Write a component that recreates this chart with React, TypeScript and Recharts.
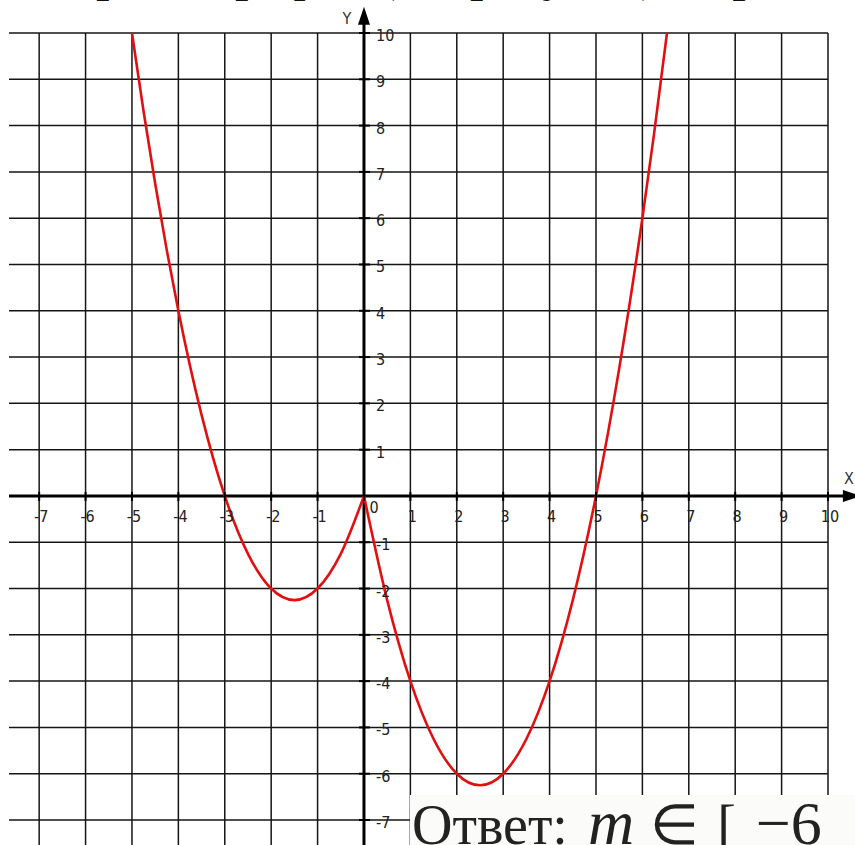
import React from "react";
import {
  LineChart,
  Line,
  XAxis,
  YAxis,
  ReferenceLine,
  ReferenceDot,
} from "recharts";

// Grid / tick values
const xTicks = [-7, -6, -5, -4, -3, -2, -1, 0, 1, 2, 3, 4, 5, 6, 7, 8, 9, 10];
const yTicks = [-7, -6, -5, -4, -3, -2, -1, 1, 2, 3, 4, 5, 6, 7, 8, 9, 10];
const xDomain = [-7.65, 10];
const yDomain = [-7.54, 10];

// Left branch of the curve (x ≤ 0)
const leftX = [-5, -4.75, -4.5, -4.25, -4, -3.5, -3, -2.5, -2, -1.5, -1, -0.5, 0];
const leftY = [10, 8.31, 6.75, 5.31, 4, 1.75, 0, -1.25, -2, -2.25, -2, -1.25, 0];

// Right branch of the curve (x ≥ 0)
const rightX = [0, 0.5, 1, 1.5, 2, 2.5, 3, 3.5, 4, 4.5, 5, 5.5, 6, 6.25, 6.53];
const rightY = [0, -2.25, -4, -5.25, -6, -6.25, -6, -5.25, -4, -2.25, 0, 2.75, 6, 7.81, 10];

const leftData = leftX.map((x, i) => ({ x, y: leftY[i] }));
const rightData = rightX.map((x, i) => ({ x, y: rightY[i] }));

const RED = "#e01010";
const GRID = "#151515";
const labelFont = "'Liberation Sans Narrow', 'DejaVu Sans Condensed', Arial, sans-serif";

const XTick = (label: number) => (props: any) => {
  const { cx, cy } = props;
  return (
    <g>
      <line x1={cx} y1={cy - 4} x2={cx} y2={cy + 5} stroke="#000" strokeWidth={2} />
      <text
        x={label === 0 ? cx + 10 : cx + 2}
        y={label === 0 ? cy + 17 : cy + 26}
        textAnchor="middle"
        fontFamily={labelFont}
        fontSize={16}
        fill="#222"
      >
        {label}
      </text>
    </g>
  );
};

const YTick = (label: number) => (props: any) => {
  const { cx, cy } = props;
  return (
    <g>
      <line x1={cx - 5} y1={cy} x2={cx + 6} y2={cy} stroke="#000" strokeWidth={2} />
      <text
        x={cx + 12}
        y={cy + 8}
        textAnchor="start"
        fontFamily={labelFont}
        fontSize={16}
        fill="#222"
      >
        {label}
      </text>
    </g>
  );
};

const XArrow = (props: any) => {
  const { cx, cy } = props;
  return (
    <g>
      <polygon points={`${cx + 12},${cy} ${cx - 6},${cy - 6} ${cx - 6},${cy + 6}`} fill="#000" />
      <text x={cx} y={cy - 12} textAnchor="middle" fontFamily={labelFont} fontSize={16} fill="#333">
        X
      </text>
    </g>
  );
};

const YArrow = (props: any) => {
  const { cx, cy } = props;
  return (
    <g>
      <polygon points={`${cx},${cy - 10} ${cx - 6},${cy + 8} ${cx + 6},${cy + 8}`} fill="#000" />
      <text x={cx - 17} y={cy + 7} textAnchor="middle" fontFamily={labelFont} fontSize={16} fill="#333">
        Y
      </text>
    </g>
  );
};

export default function App() {
  return (
    <div
      style={{
        position: "absolute",
        left: 0,
        top: 0,
        width: 855,
        height: 845,
        background: "#fff",
        overflow: "hidden",
      }}
    >
      <div
        style={{
          position: "absolute",
          left: -6,
          top: -51,
          whiteSpace: "nowrap",
          fontFamily: "'Liberation Serif', serif",
          fontWeight: "bold",
          fontSize: 46,
          color: "#111",
        }}
      >
        Построим график (см. рисунок) и прямые
      </div>
      <LineChart
        width={855}
        height={845}
        margin={{ top: 33, right: 27, bottom: 0, left: 9 }}
        style={{ position: "absolute", left: 0, top: 0 }}
      >
        <XAxis type="number" dataKey="x" domain={xDomain} ticks={xTicks} allowDataOverflow hide />
        <YAxis type="number" dataKey="y" domain={yDomain} ticks={yTicks} allowDataOverflow hide />
        {/* grid */}
        {xTicks.map((t) => (
          <ReferenceLine key={`gx${t}`} x={t} stroke={GRID} strokeWidth={1.5} />
        ))}
        {yTicks.map((t) => (
          <ReferenceLine key={`gy${t}`} y={t} stroke={GRID} strokeWidth={1.5} />
        ))}
        {/* axes */}
        <ReferenceLine
          segment={[
            { x: -7.65, y: 0 },
            { x: 10.4, y: 0 },
          ]}
          stroke="#000"
          strokeWidth={3}
          ifOverflow="visible"
        />
        <ReferenceLine
          segment={[
            { x: 0, y: -7.54 },
            { x: 0, y: 10.3 },
          ]}
          stroke="#000"
          strokeWidth={3}
          ifOverflow="visible"
        />
        {xTicks.map((t) => (
          <ReferenceDot key={`xt${t}`} x={t} y={0} r={0} ifOverflow="visible" shape={XTick(t)} />
        ))}
        {yTicks.map((t) => (
          <ReferenceDot key={`yt${t}`} x={0} y={t} r={0} ifOverflow="visible" shape={YTick(t)} />
        ))}
        <ReferenceDot x={10.45} y={0} r={0} ifOverflow="visible" shape={XArrow} />
        <ReferenceDot x={0} y={10.35} r={0} ifOverflow="visible" shape={YArrow} />
        <Line
          data={leftData}
          dataKey="y"
          type="monotone"
          stroke={RED}
          strokeWidth={2.6}
          dot={false}
          isAnimationActive={false}
        />
        <Line
          data={rightData}
          dataKey="y"
          type="monotone"
          stroke={RED}
          strokeWidth={2.6}
          dot={false}
          isAnimationActive={false}
        />
      </LineChart>
      <div
        style={{
          position: "absolute",
          left: 410,
          top: 795,
          width: 445,
          height: 50,
          background: "#fbfbf9",
          whiteSpace: "nowrap",
          overflow: "hidden",
          fontFamily: "'Liberation Serif', serif",
          fontSize: 56,
          lineHeight: "56px",
          color: "#222",
          paddingLeft: 2,
        }}
      >
        Ответ:
        <span style={{ fontStyle: "italic", fontSize: 64, marginLeft: 20 }}>m</span>
        <span style={{ marginLeft: 16 }}>∈</span>
        <span style={{ marginLeft: 18 }}>[</span>
        <span style={{ marginLeft: 20, fontSize: 62 }}>−6</span>
      </div>
    </div>
  );
}
